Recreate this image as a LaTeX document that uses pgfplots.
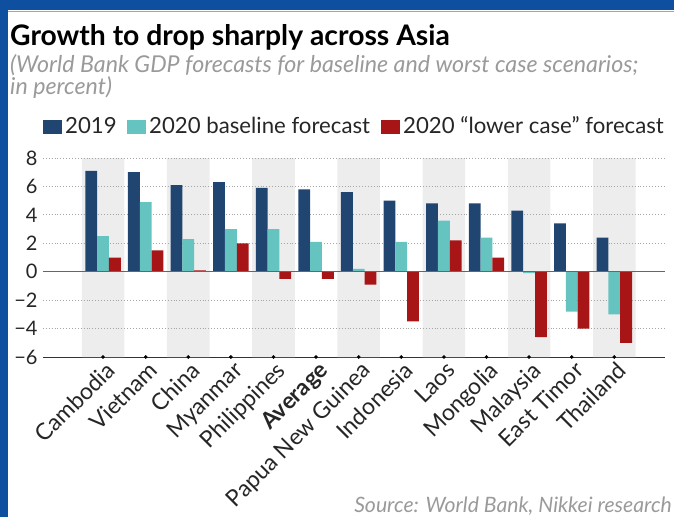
\documentclass[border=0pt]{standalone}
\usepackage{pgfplots}
\pgfplotsset{compat=1.18}
\usepackage{fontspec}
\setmainfont{Lato}
\definecolor{c19}{HTML}{1F4570}
\definecolor{cbase}{HTML}{65C3C0}
\definecolor{clow}{HTML}{A81517}
\definecolor{band}{HTML}{EDEDED}
\definecolor{frame}{HTML}{0E4F9F}
\definecolor{subgray}{HTML}{9A9A9A}

\begin{document}
\begin{tikzpicture}
\path[use as bounding box] (0pt,0pt) rectangle (674pt,517pt);
% blue frame of the screenshot
\fill[frame] (0pt,0pt) rectangle (8pt,517pt);
\fill[frame] (0pt,507pt) rectangle (674pt,517pt);
\draw[black!35, line width=1pt] (8pt,505.5pt) -- (674pt,505.5pt);

% title and subtitle
\node[anchor=base west, inner sep=0, font=\fontsize{28.3}{30}\selectfont\bfseries] at (10pt,471pt) {Growth to drop sharply across Asia};
\node[anchor=base west, inner sep=0, text=subgray, font=\fontsize{23.2}{24}\selectfont\itshape] at (10pt,444pt) {(World Bank GDP forecasts for baseline and worst case scenarios;};
\node[anchor=base west, inner sep=0, text=subgray, font=\fontsize{23.2}{24}\selectfont\itshape] at (10pt,422pt) {in percent)};

% legend
\begin{scope}[font=\fontsize{22.2}{24}\selectfont, text=black!85]
\fill[c19] (43pt,383pt) rectangle (62pt,397pt);
\node[anchor=base west, inner sep=0] at (65pt,383.5pt) {2019};
\fill[cbase] (127pt,383pt) rectangle (146pt,397pt);
\node[anchor=base west, inner sep=0] at (149pt,383.5pt) {2020 baseline forecast};
\fill[clow] (381pt,383pt) rectangle (400pt,397pt);
\node[anchor=base west, inner sep=0] at (403pt,383.5pt) {2020 “lower case” forecast};
\end{scope}

\begin{axis}[at={(43pt,160pt)}, anchor=south west,
  scale only axis, width=622pt, height=199pt,
  clip=false,
  xmin=-1.41, xmax=13.19, ymin=-6, ymax=8,
  axis lines*=left,
  y axis line style={draw=none},
  x axis line style={black!80, line width=1pt},
  ytick={-6,-4,...,8},
  yticklabels={−6,−4,−2,0,2,4,6,8},
  ytick style={draw=none},
  yticklabel style={font=\fontsize{20}{22}\selectfont, text=black!85, anchor=east, xshift=-2pt},
  xtick={0,...,12},
  xticklabels={Cambodia,Vietnam,China,Myanmar,Philippines,\textbf{Average},Papua New Guinea,Indonesia,Laos,Mongolia,Malaysia,East Timor,Thailand},
  xtick style={draw=none},
  xticklabel style={font=\fontsize{23}{24}\selectfont, text=black!85, rotate=45, anchor=north east, inner sep=0pt, xshift=-1pt, yshift=-3pt},
]
% alternating grey bands
\addplot[ybar, bar width=1, bar shift=0, fill=band, draw=none]
  coordinates {(0,8) (2,8) (4,8) (6,8) (8,8) (10,8) (12,8)};
\addplot[ybar, bar width=1, bar shift=0, fill=band, draw=none]
  coordinates {(0,-6) (2,-6) (4,-6) (6,-6) (8,-6) (10,-6) (12,-6)};

% dotted grid over the bands
\foreach \g in {8,6,4,2,-2,-4}{
  \edef\tmp{\noexpand\draw[dotted, line width=0.9pt, black!35] (axis cs:-1.41,\g) -- (axis cs:13.19,\g);}\tmp
}

% 2019
\addplot[ybar, bar width=0.277, bar shift=-0.277, fill=c19, draw=none] coordinates {
(0,7.1) (1,7.0) (2,6.1) (3,6.3) (4,5.9) (5,5.8) (6,5.6) (7,5.0) (8,4.8) (9,4.8) (10,4.3) (11,3.4) (12,2.4)};
% 2020 baseline
\addplot[ybar, bar width=0.277, bar shift=0, fill=cbase, draw=none] coordinates {
(0,2.5) (1,4.9) (2,2.3) (3,3.0) (4,3.0) (5,2.1) (6,0.2) (7,2.1) (8,3.6) (9,2.4) (10,-0.1) (11,-2.8) (12,-3.0)};
% 2020 lower case
\addplot[ybar, bar width=0.277, bar shift=0.277, fill=clow, draw=none] coordinates {
(0,1.0) (1,1.5) (2,0.1) (3,2.0) (4,-0.5) (5,-0.5) (6,-0.9) (7,-3.5) (8,2.2) (9,1.0) (10,-4.6) (11,-4.0) (12,-5.0)};

% zero line
\draw[black!60, line width=0.9pt] (axis cs:-1.41,0) -- (axis cs:13.19,0);

% tick dots on the bottom axis
\addplot[only marks, mark=*, mark size=1.6pt, black] coordinates {
(0,-6) (1,-6) (2,-6) (3,-6) (4,-6) (5,-6) (6,-6) (7,-6) (8,-6) (9,-6) (10,-6) (11,-6) (12,-6)};
\end{axis}

\node[anchor=base east, inner sep=0, text=subgray, font=\fontsize{21.2}{22}\selectfont\itshape] at (672pt,5pt) {Source: World Bank, Nikkei research};
\end{tikzpicture}
\end{document}
